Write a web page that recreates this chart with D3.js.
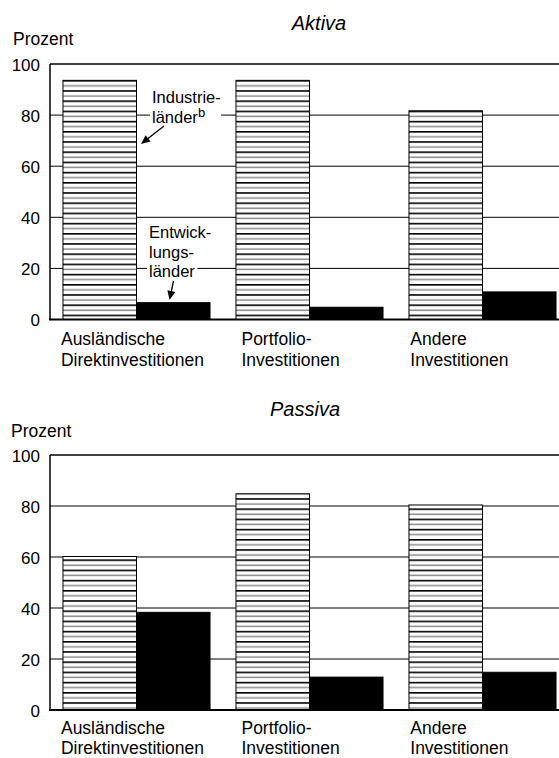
<!DOCTYPE html>
<html><head><meta charset="utf-8">
<script src="https://cdn.jsdelivr.net/npm/d3@7"></script>
<style>body{margin:0;background:#fff} text{font-family:"Liberation Sans",Arial,Helvetica,sans-serif;fill:#000}</style>
</head><body><svg id="c" width="559" height="758"></svg>
<script>
// ---- data ----
const categories = [["Ausländische", "Direktinvestitionen"], ["Portfolio-", "Investitionen"], ["Andere", "Investitionen"]];
const seriesNames = ["Industrieländer", "Entwicklungsländer"];
const aktivaIndustrie = [93.6, 93.6, 81.7];
const aktivaEntwicklung = [6.6, 4.8, 10.8];
const passivaIndustrie = [60.2, 84.8, 80.4];
const passivaEntwicklung = [38.3, 12.9, 14.8];
const yTicks = [0, 20, 40, 60, 80, 100];
const titles = ["Aktiva", "Passiva"];
const yLabel = "Prozent";

// ---- layout ----
const svg = d3.select("#c");
const FS = 17.5;
const x = d3.scaleBand().domain(d3.range(categories.length)).range([50, 569]).paddingInner(0.15).paddingOuter(0.075);
const sub = d3.scaleBand().domain([0, 1]).range([0, x.bandwidth()]);
const labelDx = [-2, 5.5, 1.3];

// stripe pattern
const defs = svg.append("defs");
const pat = defs.append("pattern").attr("id", "stripes").attr("patternUnits", "userSpaceOnUse")
  .attr("width", 20).attr("height", 10.2).attr("patternTransform", "translate(0,80)");
pat.append("rect").attr("width", 20).attr("height", 10.2).attr("fill", "#fff");
pat.append("rect").attr("y", 0).attr("width", 20).attr("height", 1.6).attr("fill", "#000");
pat.append("rect").attr("y", 5.1).attr("width", 20).attr("height", 1.5).attr("fill", "#8a8a8a");

const panels = [
  {title: titles[0], ind: aktivaIndustrie, ent: aktivaEntwicklung, top: 64, bottom: 319.5, titleX: 319, titleY: 30, labY: 45, labX: 13, l1: 25.5, l2: 21},
  {title: titles[1], ind: passivaIndustrie, ent: passivaEntwicklung, top: 455, bottom: 710, titleX: 305, titleY: 416, labY: 437, labX: 11, l1: 24, l2: 19.5}
];

panels.forEach((p, pi) => {
  const y = d3.scaleLinear().domain([0, 100]).range([p.bottom, p.top]);
  const g = svg.append("g");
  // gridlines
  g.selectAll(".grid").data(yTicks.filter(t => t > 0 && t < 100)).join("line")
    .attr("x1", 50).attr("x2", 559).attr("y1", d => y(d)).attr("y2", d => y(d))
    .attr("stroke", "#000").attr("stroke-width", 1);
  // tick labels
  g.selectAll(".tl").data(yTicks).join("text")
    .attr("x", 40).attr("y", d => y(d) + 6.5).attr("text-anchor", "end")
    .attr("font-size", 17).text(d => d);
  // y label
  g.append("text").attr("x", p.labX).attr("y", p.labY).attr("font-size", FS).text(yLabel);
  // title
  g.append("text").attr("x", p.titleX).attr("y", p.titleY).attr("text-anchor", "middle")
    .attr("font-size", 20).attr("font-style", "italic").text(p.title);
  // bars
  const bars = g.append("g");
  categories.forEach((c, i) => {
    bars.append("rect").attr("x", x(i) + sub(0)).attr("width", sub.bandwidth())
      .attr("y", y(p.ind[i])).attr("height", y(0) - y(p.ind[i]))
      .attr("fill", "url(#stripes)").attr("stroke", "#000").attr("stroke-width", 1);
    bars.append("rect").attr("x", x(i) + sub(1)).attr("width", sub.bandwidth())
      .attr("y", y(p.ent[i])).attr("height", y(0) - y(p.ent[i]))
      .attr("fill", "#000").attr("stroke", "#000").attr("stroke-width", 1);
  });
  // frame
  g.append("line").attr("x1", 50).attr("x2", 559).attr("y1", y(100)).attr("y2", y(100)).attr("stroke", "#000").attr("stroke-width", 1.5);
  g.append("line").attr("x1", 50).attr("x2", 50).attr("y1", y(100)).attr("y2", y(0)).attr("stroke", "#000").attr("stroke-width", 1.5);
  g.append("line").attr("x1", 49).attr("x2", 559).attr("y1", y(0)).attr("y2", y(0)).attr("stroke", "#000").attr("stroke-width", 2);
  // category labels
  categories.forEach((c, i) => {
    const t = g.append("text").attr("font-size", FS);
    c.forEach((line, li) => {
      t.append("tspan").attr("x", x(i) + labelDx[i]).attr("y", y(0) + p.l1 + li * p.l2).text(line);
    });
  });

  if (pi === 0) {
    // annotations
    const ann = g.append("g");
    function label(lines, x0, ys, sup) {
      const tg = ann.append("g");
      lines.forEach((l, k) => {
        const t = tg.append("text").attr("x", x0).attr("y", ys[k]).attr("font-size", 16.5).text(l);
        if (sup && k === lines.length - 1) {
          t.append("tspan").attr("font-size", 13).attr("dy", -6).text(sup);
        }
        const bb = t.node().getBBox();
        tg.insert("rect", "text").attr("x", bb.x - 2).attr("y", bb.y).attr("width", bb.width + (sup && k === lines.length - 1 ? 18 : 4)).attr("height", bb.height).attr("fill", "#fff");
      });
    }
    label(["Industrie-", "länder"], 152, [103, 123.3], "b");
    label(["Entwick-", "lungs-", "länder"], 149, [238.3, 258, 277.3]);
    function arrow(x1, y1, x2, y2) {
      const a = Math.atan2(y2 - y1, x2 - x1), L = 9, W = 4;
      ann.append("line").attr("x1", x1).attr("y1", y1).attr("x2", x2 - Math.cos(a) * L * 0.8).attr("y2", y2 - Math.sin(a) * L * 0.8)
        .attr("stroke", "#000").attr("stroke-width", 1.3);
      const bx = x2 - Math.cos(a) * L, by = y2 - Math.sin(a) * L;
      const pts = [[x2, y2], [bx + Math.sin(a) * W, by - Math.cos(a) * W], [bx - Math.sin(a) * W, by + Math.cos(a) * W]];
      ann.append("polygon").attr("points", pts.map(q => q.join(",")).join(" ")).attr("fill", "#000");
    }
    arrow(164, 126, 141, 144);
    arrow(173.5, 281, 169.5, 300);
  }
});
</script></body></html>
